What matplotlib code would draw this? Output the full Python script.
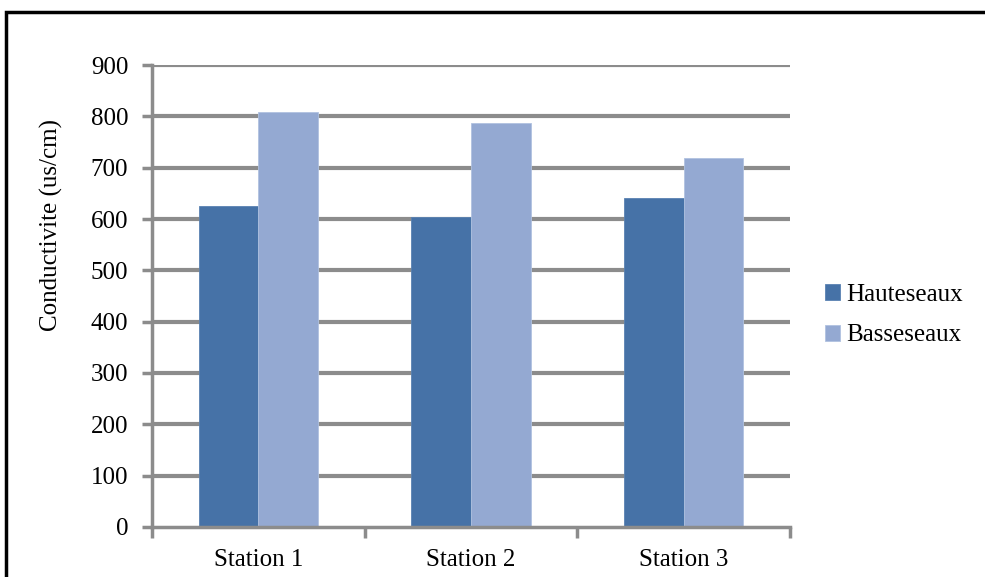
import numpy as np
import matplotlib.pyplot as plt
from matplotlib.patches import Rectangle

plt.rcParams['font.family'] = ['Liberation Serif', 'DejaVu Serif']

stations = ['Station 1', 'Station 2', 'Station 3']
hautes = [625, 604, 641]
basses = [808, 787, 719]
yticks = [0, 100, 200, 300, 400, 500, 600, 700, 800, 900]

dark = '#4672A7'
light = '#94A9D2'
grid = '#8C8C8C'

fig = plt.figure(figsize=(9.85, 5.77), dpi=100)
ax = fig.add_axes([0.1543, 0.0867, 0.6477, 0.8006])

x = np.arange(len(stations))
w = 0.28
ax.bar(x - w/2, hautes, w, color=dark, edgecolor='#5A82B2', linewidth=0.6,
       label='Hauteseaux', zorder=3)
ax.bar(x + w/2, basses, w, color=light, edgecolor='#B0C2E0', linewidth=0.6,
       label='Basseseaux', zorder=3)

ax.set_xlim(-0.5, 2.5)
ax.set_ylim(0, 900)
ax.set_yticks(yticks)
ax.set_xticks(x)
ax.set_xticklabels(stations)
ax.set_xticks([-0.5, 0.5, 1.5, 2.5], minor=True)
for v in yticks[1:]:
    ax.axhline(v, color=grid, lw=3, solid_capstyle='round', zorder=1)

for s in ('top', 'right'):
    ax.spines[s].set_visible(False)
for s in ('left', 'bottom'):
    ax.spines[s].set_color(grid)
    ax.spines[s].set_linewidth(2.5)
    ax.spines[s].set_zorder(4)
ax.tick_params(axis='y', which='major', length=7, width=2.5, color=grid,
               labelsize=18, pad=10)
ax.tick_params(axis='x', which='major', length=0, labelsize=18, pad=16)
ax.tick_params(axis='x', which='minor', length=8, width=2.5, color=grid)
ax.set_ylabel('Conductivite (us/cm)', fontsize=18)
ax.yaxis.set_label_coords(-0.139, 0.654)

fig.legend(loc='center left', bbox_to_anchor=(0.815, 0.454), frameon=False,
           fontsize=18, handlelength=0.6, handleheight=0.6, handletextpad=0.25,
           labelspacing=0.75)

fig.patches.append(Rectangle((6/985, -0.1), 1.2, 1 - 12/577 + 0.1,
                             transform=fig.transFigure, fill=False,
                             edgecolor='black', linewidth=2.5))

plt.savefig('out.png', dpi=100)
